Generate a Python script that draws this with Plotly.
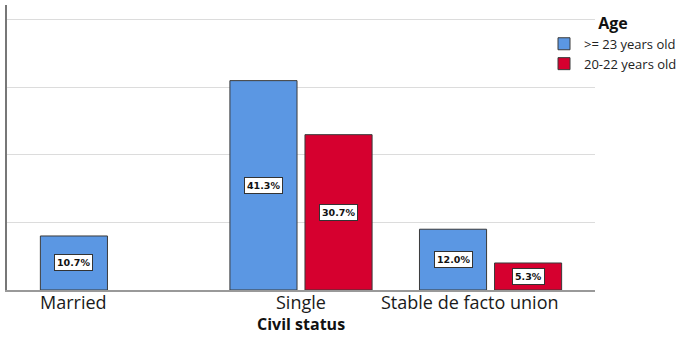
import plotly.graph_objects as go

# ---- data ----
categories = ["Married", "Single", "Stable de facto union"]
series_names = [">= 23 years old", "20-22 years old"]
counts_23plus = [8, 31, 9]
counts_20_22 = [None, 23, 4]
total_n = 75

# ---- styles ----
colors = ["#5b97e3", "#d6002f"]
bar_width = 0.354
bar_offsets = [-0.375, 0.021]
label_shift = [-0.2, 0.0, -0.11]
FONT = "Open Sans"

fig = go.Figure()
annotations = []
for vals, name, col, off in zip([counts_23plus, counts_20_22], series_names, colors, bar_offsets):
    fig.add_trace(go.Bar(
        x=categories, y=vals, name=name,
        width=bar_width, offset=off,
        marker=dict(color=col, line=dict(color="#3a3a3a", width=1)),
    ))
    for i, v in enumerate(vals):
        if v is None:
            continue
        annotations.append(dict(
            x=i + off + bar_width / 2, y=v / 2, xref="x", yref="y",
            text=f"<b>{v / total_n * 100:.1f}%</b>", showarrow=False,
            font=dict(family="DejaVu Sans", size=9.5, color="#111"),
            bgcolor="white", bordercolor="#333", borderwidth=1, borderpad=2,
        ))

for i, c in enumerate(categories):
    annotations.append(dict(
        x=i + label_shift[i], y=0, xref="x", yref="paper",
        text=c, showarrow=False, yanchor="middle", yshift=-12,
        font=dict(family=FONT, size=18, color="#1a1a1a"),
    ))
annotations.append(dict(
    x=0.5, y=0, xref="paper", yref="paper", text="<b>Civil status</b>",
    showarrow=False, yanchor="middle", yshift=-34,
    font=dict(family=FONT, size=16, color="#111"),
))

fig.update_layout(
    width=688, height=337,
    margin=dict(l=7, r=93, t=5, b=47, autoexpand=False),
    paper_bgcolor="white", plot_bgcolor="white",
    barmode="overlay",
    showlegend=True,
    legend=dict(
        title=dict(text="<b>Age</b>", side="top center", font=dict(family=FONT, size=16, color="#111")),
        xref="container", yref="container",
        x=544 / 688, y=1 - 8 / 337, xanchor="left", yanchor="top",
        font=dict(family=FONT, size=13, color="#222"),
        bgcolor="rgba(0,0,0,0)", tracegroupgap=0,
    ),
    xaxis=dict(range=[-0.551, 2.551], showticklabels=False, ticks="",
               showline=True, linecolor="#999", linewidth=2, showgrid=False),
    yaxis=dict(range=[0, 42.2], dtick=10, showticklabels=False, ticks="",
               showgrid=True, gridcolor="#dcdcdc", gridwidth=1,
               showline=True, linecolor="#777", linewidth=2, zeroline=False),
    annotations=annotations,
)

fig.write_html("out.html")
